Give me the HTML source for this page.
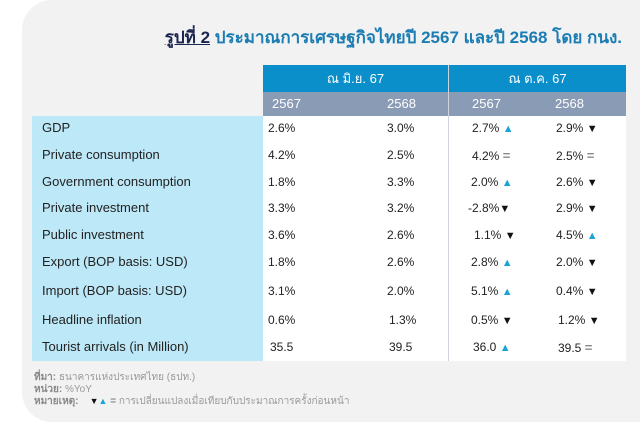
<!DOCTYPE html>
<html><head><meta charset="utf-8"><style>
body{margin:0;width:640px;height:429px;background:#fff;position:relative;overflow:hidden;font-family:"Liberation Sans","Noto Sans CJK SC",sans-serif;}
.card{position:absolute;left:22px;top:0;width:660px;height:422px;background:#f2f2f2;border-radius:30px;}
.t{position:absolute;white-space:nowrap;}
.title{right:18px;top:24px;font-size:17px;font-weight:bold;color:#1b7db3;}
.title u{color:#1a2550;}
.lab{position:absolute;left:32px;top:116px;width:231px;height:245px;background:#bde8f7;}
.dat{position:absolute;left:263px;top:116px;width:363px;height:245px;background:#fff;}
.h1{position:absolute;top:65px;height:27px;background:#0a8fcb;color:#fff;font-size:13px;text-align:center;line-height:27px;}
.h2{position:absolute;top:92px;height:24px;background:#8a9bb5;color:#fff;font-size:13px;line-height:24px;}
.vl{position:absolute;left:448px;top:65px;width:1px;height:296px;background:#cfd4dc;}
.r{position:absolute;font-size:13px;color:#222;}
.v{font-size:12px;top:auto;}
.up{color:#1aa3d9;font-size:11px;}
.dn{color:#111;font-size:11px;}
.eq{color:#888;font-size:13px;font-weight:bold;}
.foot{position:absolute;left:34px;font-size:10px;color:#999;}
.foot b{color:#888;}
</style></head><body>
<div class="card"></div>
<div class="t title"><u>รูปที่ 2</u> ประมาณการเศรษฐกิจไทยปี 2567 และปี 2568 โดย กนง.</div>
<div class="h1" style="left:263px;width:185px">ณ มิ.ย. 67</div>
<div class="h1" style="left:449px;width:177px">ณ ต.ค. 67</div>
<div class="h2" style="left:263px;width:363px"></div>
<div class="t h2" style="left:272px;background:none">2567</div>
<div class="t h2" style="left:387px;background:none">2568</div>
<div class="t h2" style="left:472px;background:none">2567</div>
<div class="t h2" style="left:555px;background:none">2568</div>
<div class="lab"></div><div class="dat"></div><div class="vl"></div>
<div class="r" style="left:42px;top:120px">GDP</div>
<div class="r" style="left:42px;top:147px">Private consumption</div>
<div class="r" style="left:42px;top:174px">Government consumption</div>
<div class="r" style="left:42px;top:200px">Private investment</div>
<div class="r" style="left:42px;top:227px">Public investment</div>
<div class="r" style="left:42px;top:254px">Export (BOP basis: USD)</div>
<div class="r" style="left:42px;top:283px">Import (BOP basis: USD)</div>
<div class="r" style="left:42px;top:312px">Headline inflation</div>
<div class="r" style="left:42px;top:339px">Tourist arrivals (in Million)</div>

<div class="r v" style="left:268px;top:121px">2.6%</div><div class="r v" style="left:387px;top:121px">3.0%</div>
<div class="r v" style="left:472px;top:121px">2.7% <span class="up">▲</span></div><div class="r v" style="left:556px;top:121px">2.9% <span class="dn">▼</span></div>
<div class="r v" style="left:268px;top:148px">4.2%</div><div class="r v" style="left:387px;top:148px">2.5%</div>
<div class="r v" style="left:472px;top:148px">4.2% <span class="eq">=</span></div><div class="r v" style="left:556px;top:148px">2.5% <span class="eq">=</span></div>
<div class="r v" style="left:268px;top:175px">1.8%</div><div class="r v" style="left:387px;top:175px">3.3%</div>
<div class="r v" style="left:471px;top:175px">2.0% <span class="up">▲</span></div><div class="r v" style="left:556px;top:175px">2.6% <span class="dn">▼</span></div>
<div class="r v" style="left:268px;top:201px">3.3%</div><div class="r v" style="left:387px;top:201px">3.2%</div>
<div class="r v" style="left:468px;top:201px">-2.8%<span class="dn">▼</span></div><div class="r v" style="left:556px;top:201px">2.9% <span class="dn">▼</span></div>
<div class="r v" style="left:268px;top:228px">3.6%</div><div class="r v" style="left:387px;top:228px">2.6%</div>
<div class="r v" style="left:474px;top:228px">1.1% <span class="dn">▼</span></div><div class="r v" style="left:556px;top:228px">4.5% <span class="up">▲</span></div>
<div class="r v" style="left:268px;top:255px">1.8%</div><div class="r v" style="left:387px;top:255px">2.6%</div>
<div class="r v" style="left:471px;top:255px">2.8% <span class="up">▲</span></div><div class="r v" style="left:556px;top:255px">2.0% <span class="dn">▼</span></div>
<div class="r v" style="left:268px;top:284px">3.1%</div><div class="r v" style="left:387px;top:284px">2.0%</div>
<div class="r v" style="left:471px;top:284px">5.1% <span class="up">▲</span></div><div class="r v" style="left:556px;top:284px">0.4% <span class="dn">▼</span></div>
<div class="r v" style="left:268px;top:313px">0.6%</div><div class="r v" style="left:389px;top:313px">1.3%</div>
<div class="r v" style="left:471px;top:313px">0.5% <span class="dn">▼</span></div><div class="r v" style="left:558px;top:313px">1.2% <span class="dn">▼</span></div>
<div class="r v" style="left:270px;top:340px">35.5</div><div class="r v" style="left:389px;top:340px">39.5</div>
<div class="r v" style="left:473px;top:340px">36.0 <span class="up">▲</span></div><div class="r v" style="left:558px;top:340px">39.5 <span class="eq">=</span></div>

<div class="foot" style="top:370px"><b>ที่มา:</b> ธนาคารแห่งประเทศไทย (ธปท.)</div>
<div class="foot" style="top:382px"><b>หน่วย:</b> %YoY</div>
<div class="foot" style="top:394px"><b>หมายเหตุ:</b> &nbsp;&nbsp;&nbsp;<span style="color:#111;font-size:9px">▼</span><span style="color:#1aa3d9;font-size:9px">▲</span> <span style="color:#888;font-weight:bold">=</span> การเปลี่ยนแปลงเมื่อเทียบกับประมาณการครั้งก่อนหน้า</div>
</body></html>
